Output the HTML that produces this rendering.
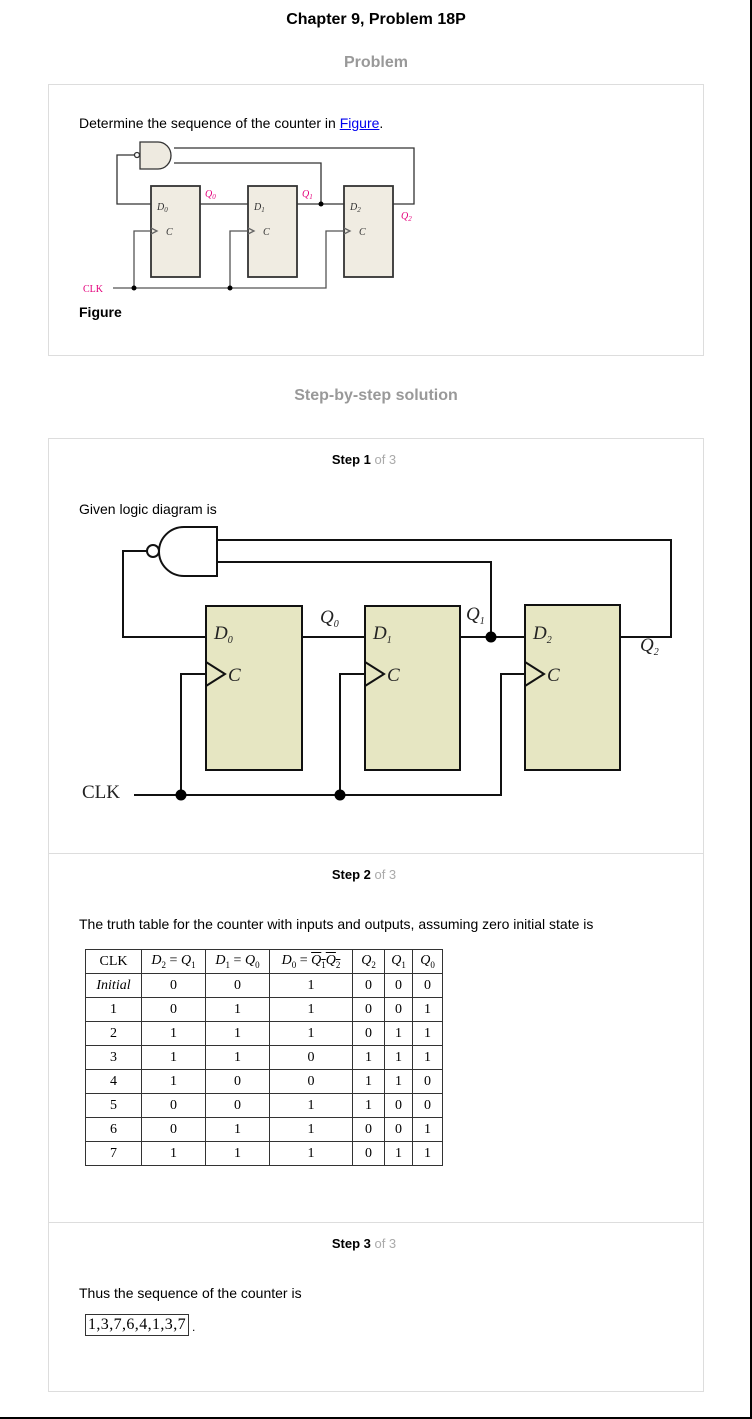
<!DOCTYPE html>
<html><head><meta charset="utf-8"><style>
body{margin:0;width:752px;height:1419px;position:relative;background:#fff;font-family:"Liberation Sans",Arial,sans-serif;overflow:hidden}
.a{position:absolute;white-space:nowrap}
.box{position:absolute;border:1px solid #ddd;box-sizing:border-box}
.t{font-size:14px;color:#000}
.h{font-weight:bold;color:#999;font-size:16px;width:752px;text-align:center;left:0}
.st{font-weight:bold;font-size:13px;width:752px;text-align:center;left:-12px}
.st span{color:#aaa;font-weight:normal}
table{position:absolute;left:85px;top:949px;border-collapse:collapse;font-family:"Liberation Serif",serif;font-size:14px}
td{border:1px solid #333;text-align:center;height:23px;padding:0}
</style></head><body>
<div class="a" style="left:0;top:11px;width:752px;text-align:center;font-weight:bold;font-size:16px">Chapter 9, Problem 18P</div>
<div class="a h" style="top:54px">Problem</div>
<div class="box" style="left:48px;top:84px;width:656px;height:272px"></div>
<div class="a t" style="left:79px;top:115px">Determine the sequence of the counter in <span style="color:#00e;text-decoration:underline">Figure</span>.</div>
<svg class="a" style="left:0;top:0" width="752" height="360">
<g fill="none" stroke="#333" stroke-width="1.3">
<path d="M140 142 H158 A13 13.5 0 0 1 158 169 H140 Z" fill="#eeeae0"/>
<circle cx="137" cy="155" r="2.5" fill="#fff"/>
<path d="M134.5 155 H117 V204 H151"/>
<path d="M174 148 H414 V204 H393"/>
<path d="M174 163 H321 V204"/>
<path d="M200 204 H248 M297 204 H344"/>
<rect x="151" y="186" width="49" height="91" fill="#f0ece2" stroke-width="1.8"/>
<rect x="248" y="186" width="49" height="91" fill="#f0ece2" stroke-width="1.8"/>
<rect x="344" y="186" width="49" height="91" fill="#f0ece2" stroke-width="1.8"/>
<path d="M151 228 L157 231 L151 234 M248 228 L254 231 L248 234 M344 228 L350 231 L344 234" stroke="#666"/>
<path d="M113 288 H326 V231 H344 M134 288 V231 H151 M230 288 V231 H248" stroke="#555"/>
</g>
<circle cx="321" cy="204" r="2.5" fill="#000"/><circle cx="134" cy="288" r="2.5" fill="#000"/><circle cx="230" cy="288" r="2.5" fill="#000"/>
<g font-family="Liberation Serif,serif" font-style="italic" font-size="10" fill="#333">
<text x="157" y="210">D<tspan font-size="7" dy="2">0</tspan></text><text x="254" y="210">D<tspan font-size="7" dy="2">1</tspan></text><text x="350" y="210">D<tspan font-size="7" dy="2">2</tspan></text>
<text x="166" y="235">C</text><text x="263" y="235">C</text><text x="359" y="235">C</text>
<g fill="#e4007c"><text x="205" y="197">Q<tspan font-size="7" dy="2">0</tspan></text><text x="302" y="197">Q<tspan font-size="7" dy="2">1</tspan></text><text x="401" y="219">Q<tspan font-size="7" dy="2">2</tspan></text></g>
</g>
<text x="83" y="292" font-family="Liberation Serif,serif" font-size="10" fill="#e4007c">CLK</text>
</svg>
<div class="a" style="left:79px;top:304px;font-weight:bold;font-size:14px">Figure</div>
<div class="a h" style="top:387px">Step-by-step solution</div>
<div class="box" style="left:48px;top:438px;width:656px;height:954px"></div>
<div class="a" style="left:48px;top:853px;width:656px;border-top:1px solid #ddd"></div>
<div class="a" style="left:48px;top:1222px;width:656px;border-top:1px solid #ddd"></div>
<div class="a st" style="top:452px">Step 1 <span>of 3</span></div>
<div class="a t" style="left:79px;top:501px">Given logic diagram is</div>
<svg class="a" style="left:0;top:500px" width="752" height="320">
<g transform="translate(0,-500)" fill="none" stroke="#111" stroke-width="2">
<path d="M217 527 H184 A25 24.5 0 0 0 184 576 H217 Z" fill="#fff"/>
<circle cx="153" cy="551" r="6" fill="#fff"/>
<path d="M147 551 H123 V637 H206"/>
<path d="M217 540 H671 V637 H620"/>
<path d="M217 562 H491 V637"/>
<path d="M302 637 H365 M460 637 H525"/>
<rect x="206" y="606" width="96" height="164" fill="#e6e6c2"/>
<rect x="365" y="606" width="95" height="164" fill="#e6e6c2"/>
<rect x="525" y="605" width="95" height="165" fill="#e6e6c2"/>
<path d="M206 662 L225 674 L206 686 M365 662 L384 674 L365 686 M525 662 L544 674 L525 686"/>
<path d="M134 795 H501 V674 H525 M181 795 V674 H206 M340 795 V674 H365"/>
</g>
<g transform="translate(0,-500)">
<circle cx="491" cy="637" r="5.5" fill="#000"/><circle cx="181" cy="795" r="5.5" fill="#000"/><circle cx="340" cy="795" r="5.5" fill="#000"/>
<g font-family="Liberation Serif,serif" font-style="italic" font-size="19" fill="#222">
<text x="214" y="639">D<tspan font-size="10" dy="4">0</tspan></text><text x="373" y="639">D<tspan font-size="10" dy="4">1</tspan></text><text x="533" y="639">D<tspan font-size="10" dy="4">2</tspan></text>
<text x="228" y="681">C</text><text x="387" y="681">C</text><text x="547" y="681">C</text>
<text x="320" y="623">Q<tspan font-size="10" dy="4">0</tspan></text><text x="466" y="620">Q<tspan font-size="10" dy="4">1</tspan></text><text x="640" y="651">Q<tspan font-size="10" dy="4">2</tspan></text>
</g>
<text x="82" y="798" font-family="Liberation Serif,serif" font-size="19" fill="#222">CLK</text>
</g>
</svg>
<div class="a st" style="top:867px">Step 2 <span>of 3</span></div>
<div class="a t" style="left:79px;top:916px">The truth table for the counter with inputs and outputs, assuming zero initial state is</div>
<table>
<tr><td style="width:55px">CLK</td><td style="width:63px"><i>D</i><sub style="font-size:9px">2</sub> = <i>Q</i><sub style="font-size:9px">1</sub></td><td style="width:63px"><i>D</i><sub style="font-size:9px">1</sub> = <i>Q</i><sub style="font-size:9px">0</sub></td><td style="width:82px"><i>D</i><sub style="font-size:9px">0</sub> = <span style="text-decoration:overline"><i>Q</i><sub style="font-size:9px">1</sub><i>Q</i><sub style="font-size:9px">2</sub></span></td><td style="width:31px"><i>Q</i><sub style="font-size:9px">2</sub></td><td style="width:27px"><i>Q</i><sub style="font-size:9px">1</sub></td><td style="width:29px"><i>Q</i><sub style="font-size:9px">0</sub></td></tr>
<tr><td><i>Initial</i></td><td>0</td><td>0</td><td>1</td><td>0</td><td>0</td><td>0</td></tr>
<tr><td>1</td><td>0</td><td>1</td><td>1</td><td>0</td><td>0</td><td>1</td></tr>
<tr><td>2</td><td>1</td><td>1</td><td>1</td><td>0</td><td>1</td><td>1</td></tr>
<tr><td>3</td><td>1</td><td>1</td><td>0</td><td>1</td><td>1</td><td>1</td></tr>
<tr><td>4</td><td>1</td><td>0</td><td>0</td><td>1</td><td>1</td><td>0</td></tr>
<tr><td>5</td><td>0</td><td>0</td><td>1</td><td>1</td><td>0</td><td>0</td></tr>
<tr><td>6</td><td>0</td><td>1</td><td>1</td><td>0</td><td>0</td><td>1</td></tr>
<tr><td>7</td><td>1</td><td>1</td><td>1</td><td>0</td><td>1</td><td>1</td></tr>
</table>
<div class="a st" style="top:1236px">Step 3 <span>of 3</span></div>
<div class="a t" style="left:79px;top:1285px">Thus the sequence of the counter is</div>
<div class="a" style="left:85px;top:1314px;width:98px;border:1px solid #333;padding:0 2px;font-family:'Liberation Serif',serif;font-size:16px;line-height:20px;letter-spacing:0.4px">1,3,7,6,4,1,3,7</div>
<div class="a t" style="left:192px;top:1320px;font-size:12px">.</div>
<div class="a" style="left:750px;top:0;width:2px;height:1419px;background:#000"></div>
<div class="a" style="left:0;top:1417px;width:752px;height:2px;background:#000"></div>
</body></html>
